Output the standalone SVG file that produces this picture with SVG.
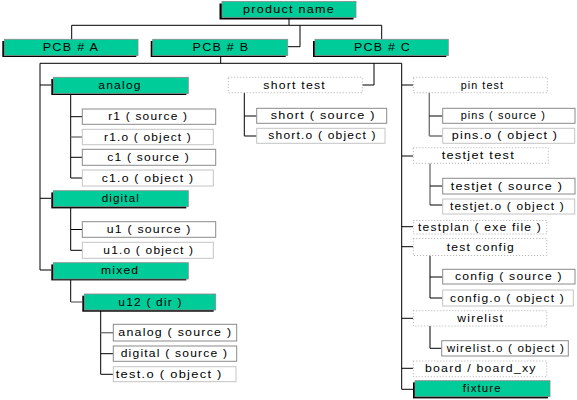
<svg xmlns="http://www.w3.org/2000/svg" width="577" height="400" viewBox="0 0 577 400">
<style>
.t{font-family:"Liberation Sans",Arial,sans-serif;font-size:10px;letter-spacing:1px;fill:#000}
.g{fill:#00CC99;stroke:#8a8a8a;stroke-width:0.8}
.sh{fill:#000}
.s{fill:#fff;stroke:#8a8a8a;stroke-width:1}
.o{fill:#fff;stroke:#c4c4c4;stroke-width:1}
.d{fill:#fff;stroke:#9a9a9a;stroke-width:0.8;stroke-dasharray:1 2}
.c{fill:none;stroke:#000;stroke-width:1}
.cg{fill:none;stroke:#777;stroke-width:1.4}
</style>
<rect width="577" height="400" fill="#fff"/>
<g id="connectors">
<path class="c" d="M289 17.5V25.3M71.7 25.3H381.7M71.7 25.3V39.3M381.7 25.3V39.3M300 25.3V46.7H288"/>
<path class="c" d="M220.7 56V63.3M40 63.3H401.7M40 63.3V270M40 85H51M40 198.3H51M40 270H51"/>
<path class="c" d="M374 63.3V85H362.3"/>
<path class="c" d="M401.7 63.3V389.3M401.7 85H413.3M401.7 156H413.3M401.7 226.7H413.3M401.7 246.7H413.3M401.7 318.3H413.3M401.7 368.3H413.3M401.7 389.3H413"/>
<path class="c" d="M70.7 94V178M70.7 116.7H82.3M70.7 157.3H82.3M70.7 178H82.3"/>
<path class="cg" d="M70.7 137H82.3"/>
<path class="c" d="M70.7 206.7V250.3M70.7 229.5H82.3M70.7 250.3H82.3"/>
<path class="c" d="M70.7 279V302"/>
<path class="cg" d="M70.7 302H82.3"/>
<path class="c" d="M100.7 310V374.3M100.7 353.7H113.3M100.7 374.3H113.3"/>
<path class="cg" d="M100.7 332.7H113.3"/>
<path class="c" d="M244.3 92.7V136M244.3 116H256.7M244.3 136H256.7"/>
<path class="cg" d="M429.3 92.7V136M429.3 136H442.7"/>
<path class="c" d="M429.3 116H442.7"/>
<path class="cg" d="M430 163.3V205"/>
<path class="c" d="M430 186H442.7M430 205H442.7"/>
<path class="c" d="M430 255.5V298M430 277H442.7M430 298H442.7"/>
<path class="c" d="M430 326V348.3H441.7"/>
</g>
<g id="product-name"><rect class="sh" x="219.5" y="3.5" width="134" height="16"/><rect class="g" x="222" y="1.5" width="134" height="16"/><text class="t" x="243" y="13" textLength="92" lengthAdjust="spacingAndGlyphs">product name</text></g>
<g id="pcb-a"><rect class="sh" x="2.3" y="41" width="134" height="16"/><rect class="g" x="4.3" y="39.3" width="133.7" height="16.3"/><text class="t" x="42.7" y="51" textLength="56.6" lengthAdjust="spacingAndGlyphs">PCB # A</text></g>
<g id="pcb-b"><rect class="sh" x="150.7" y="41" width="135" height="16"/><rect class="g" x="152.7" y="39.3" width="135" height="16.3"/><text class="t" x="192.5" y="51" textLength="57" lengthAdjust="spacingAndGlyphs">PCB # B</text></g>
<g id="pcb-c"><rect class="sh" x="313" y="41" width="133.3" height="16"/><rect class="g" x="315" y="39.3" width="133.3" height="16.3"/><text class="t" x="354" y="51" textLength="57" lengthAdjust="spacingAndGlyphs">PCB # C</text></g>
<g id="analog"><rect class="sh" x="51.3" y="79" width="135" height="16"/><rect class="g" x="53.3" y="77.3" width="135" height="16.3"/><text class="t" x="98.3" y="89" textLength="43.4" lengthAdjust="spacingAndGlyphs">analog</text></g>
<g id="r1-source"><rect class="s" x="82.3" y="109" width="133.4" height="15.3"/><text class="t" x="108.2" y="120.2" textLength="80" lengthAdjust="spacingAndGlyphs">r1 ( source )</text></g>
<g id="r1o-object"><rect class="o" x="82.3" y="129.3" width="131" height="15.4"/><text class="t" x="104" y="140.5" textLength="88" lengthAdjust="spacingAndGlyphs">r1.o ( object )</text></g>
<g id="c1-source"><rect class="s" x="82.3" y="149.3" width="133.4" height="16"/><text class="t" x="107.3" y="160.8" textLength="82.7" lengthAdjust="spacingAndGlyphs">c1 ( source )</text></g>
<g id="c1o-object"><rect class="o" x="82.3" y="170" width="131" height="16"/><text class="t" x="101.7" y="181.5" textLength="92.6" lengthAdjust="spacingAndGlyphs">c1.o ( object )</text></g>
<g id="digital"><rect class="sh" x="51.3" y="192.4" width="135" height="16"/><rect class="g" x="53.3" y="190.7" width="135" height="16"/><text class="t" x="101.7" y="202.3" textLength="38.3" lengthAdjust="spacingAndGlyphs">digital</text></g>
<g id="u1-source"><rect class="s" x="82.3" y="221.7" width="133.4" height="15.6"/><text class="t" x="106.7" y="233" textLength="85" lengthAdjust="spacingAndGlyphs">u1 ( source )</text></g>
<g id="u1o-object"><rect class="o" x="82.3" y="242.3" width="131" height="16"/><text class="t" x="103.3" y="253.8" textLength="91" lengthAdjust="spacingAndGlyphs">u1.o ( object )</text></g>
<g id="mixed"><rect class="sh" x="51.3" y="264.4" width="135" height="16"/><rect class="g" x="53.3" y="262.7" width="135" height="16.3"/><text class="t" x="101" y="274.4" textLength="38.3" lengthAdjust="spacingAndGlyphs">mixed</text></g>
<g id="u12-dir"><rect class="sh" x="82.3" y="295.7" width="131.4" height="16"/><rect class="g" x="84.3" y="294" width="131.4" height="16"/><text class="t" x="118.3" y="305.5" textLength="64.4" lengthAdjust="spacingAndGlyphs">u12 ( dir )</text></g>
<g id="analog-source"><rect class="s" x="113.3" y="324.3" width="123.4" height="16.7"/><text class="t" x="118.3" y="336.2" textLength="114" lengthAdjust="spacingAndGlyphs">analog ( source )</text></g>
<g id="digital-source"><rect class="s" x="113.3" y="346" width="123.4" height="15.3"/><text class="t" x="120.7" y="357.2" textLength="107.6" lengthAdjust="spacingAndGlyphs">digital ( source )</text></g>
<g id="testo-object"><rect class="o" x="113.3" y="366.7" width="122.7" height="15"/><text class="t" x="115.7" y="377.7" textLength="107" lengthAdjust="spacingAndGlyphs">test.o ( object )</text></g>
<g id="short-test"><rect class="d" x="228.3" y="77.3" width="134" height="15.4"/><text class="t" x="263.3" y="88.5" textLength="62.7" lengthAdjust="spacingAndGlyphs">short test</text></g>
<g id="short-source"><rect class="s" x="256.7" y="108.3" width="130" height="15"/><text class="t" x="270.7" y="119.3" textLength="105" lengthAdjust="spacingAndGlyphs">short ( source )</text></g>
<g id="shorto-object"><rect class="o" x="256.7" y="128.3" width="128.3" height="15"/><text class="t" x="268.3" y="139.3" textLength="108.4" lengthAdjust="spacingAndGlyphs">short.o ( object )</text></g>
<g id="pin-test"><rect class="d" x="413.3" y="77.3" width="134" height="15.4"/><text class="t" x="460.7" y="88.5" textLength="43.3" lengthAdjust="spacingAndGlyphs">pin test</text></g>
<g id="pins-source"><rect class="s" x="442.7" y="108.3" width="132.3" height="15"/><text class="t" x="460.7" y="119.3" textLength="85.3" lengthAdjust="spacingAndGlyphs">pins ( source )</text></g>
<g id="pinso-object"><rect class="o" x="442.7" y="128.3" width="132" height="15"/><text class="t" x="451.7" y="139.3" textLength="106.6" lengthAdjust="spacingAndGlyphs">pins.o ( object )</text></g>
<g id="testjet-test"><rect class="d" x="413.3" y="147.7" width="135" height="15.6"/><text class="t" x="441.7" y="159" textLength="73.3" lengthAdjust="spacingAndGlyphs">testjet test</text></g>
<g id="testjet-source"><rect class="s" x="442.7" y="178.3" width="132.3" height="15.7"/><text class="t" x="450.7" y="189.6" textLength="112.6" lengthAdjust="spacingAndGlyphs">testjet ( source )</text></g>
<g id="testjeto-object"><rect class="o" x="442.7" y="199" width="132" height="15"/><text class="t" x="450" y="210" textLength="115" lengthAdjust="spacingAndGlyphs">testjet.o ( object )</text></g>
<g id="testplan"><rect class="d" x="413.3" y="220.5" width="133.4" height="13.5"/><text class="t" x="418" y="230.5" textLength="124" lengthAdjust="spacingAndGlyphs">testplan ( exe file )</text></g>
<g id="test-config"><rect class="d" x="413.3" y="238.5" width="133.4" height="17"/><text class="t" x="446.7" y="250.5" textLength="68.3" lengthAdjust="spacingAndGlyphs">test config</text></g>
<g id="config-source"><rect class="s" x="442.7" y="269.3" width="132.3" height="14.7"/><text class="t" x="455" y="280.2" textLength="107.7" lengthAdjust="spacingAndGlyphs">config ( source )</text></g>
<g id="configo-object"><rect class="o" x="442.7" y="290" width="130.6" height="16"/><text class="t" x="450" y="301.5" textLength="115" lengthAdjust="spacingAndGlyphs">config.o ( object )</text></g>
<g id="wirelist"><rect class="d" x="413.3" y="310.7" width="133.4" height="15.3"/><text class="t" x="457.3" y="321.8" textLength="46.7" lengthAdjust="spacingAndGlyphs">wirelist</text></g>
<g id="wirelisto-object"><rect class="s" x="441.7" y="340.7" width="126.6" height="15.3"/><text class="t" x="446.7" y="351.8" textLength="118.3" lengthAdjust="spacingAndGlyphs">wirelist.o ( object )</text></g>
<g id="board"><rect class="d" x="413.3" y="361" width="133.4" height="15.7"/><text class="t" x="425" y="372.3" textLength="111.7" lengthAdjust="spacingAndGlyphs">board / board_xy</text></g>
<g id="fixture"><rect class="sh" x="413" y="382.4" width="135" height="16"/><rect class="g" x="415" y="380.7" width="135" height="16"/><text class="t" x="462.7" y="392.2" textLength="39" lengthAdjust="spacingAndGlyphs">fixture</text></g>
</svg>
